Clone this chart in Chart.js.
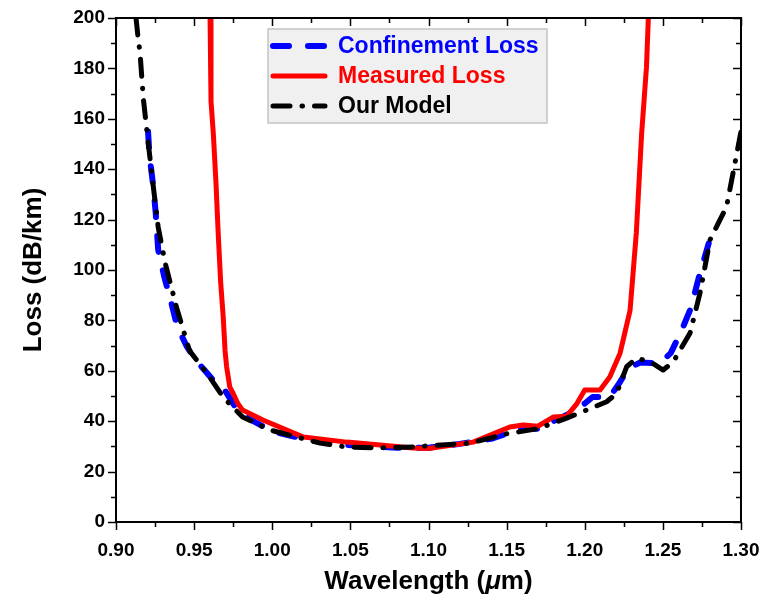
<!DOCTYPE html>
<html>
<head>
<meta charset="utf-8">
<script src="https://cdn.jsdelivr.net/npm/chart.js@4/dist/chart.umd.min.js"></script>
<style>
    html, body { margin: 0; padding: 0; background: #ffffff; }
    #wrap { width: 765px; height: 606px; position: relative; }
</style>
</head>
<body>
<div id="wrap"><canvas id="loss-chart"></canvas></div>
<script>
// Données
const confWl   = [0.9205, 0.9215, 0.9239, 0.9255, 0.927, 0.931, 0.935, 0.939, 0.945, 0.950, 0.957, 0.964, 0.970, 0.976, 0.985, 1.000, 1.02, 1.04, 1.06, 1.08, 1.10, 1.12, 1.14, 1.16, 1.17, 1.18, 1.19, 1.20, 1.205, 1.216, 1.222, 1.228, 1.2355, 1.248, 1.255, 1.262, 1.268, 1.273, 1.280];
const confLoss = [155, 145, 133, 122, 108, 97, 88, 78, 70, 65, 60, 55, 52, 46, 41, 36, 33, 31, 30, 29.5, 29.5, 31, 33, 37, 37, 40, 43, 47, 49.6, 49.6, 55, 61, 63.3, 63, 67, 76, 85, 97, 112];

const measWl   = [0.9602, 0.9608, 0.9623, 0.964, 0.9654, 0.967, 0.9686, 0.9698, 0.9708, 0.9728, 0.975, 0.978, 0.981, 0.994, 1.02, 1.0476, 1.069, 1.09, 1.10, 1.1286, 1.152, 1.1606, 1.17, 1.18, 1.1884, 1.195, 1.20, 1.2098, 1.216, 1.2226, 1.229, 1.233, 1.2364, 1.2395, 1.2407];
const measLoss = [200, 167, 154, 134.5, 114.6, 95, 81.5, 68, 61.6, 53.6, 51, 47, 44.4, 40.5, 33.7, 31.7, 30.6, 29.4, 29.2, 31.7, 37.7, 38.5, 38, 41.7, 42, 47, 52.4, 52.4, 57.5, 67, 84, 114.7, 154, 180.5, 200];

const modelWl   = [0.9128, 0.914, 0.9154, 0.9175, 0.9207, 0.9239, 0.927, 0.9314, 0.9388, 0.947, 0.960, 0.9685, 0.981, 0.9986, 1.0306, 1.047, 1.069, 1.09, 1.1266, 1.15, 1.17, 1.1884, 1.214, 1.2204, 1.2268, 1.2332, 1.242, 1.2502, 1.2567, 1.2674, 1.2738, 1.2802, 1.285, 1.2907, 1.296, 1.300];
const modelLoss = [200, 193, 186, 168, 150, 133, 117, 103, 85, 68, 57.5, 49.6, 41.7, 36.5, 31.3, 29.8, 29.4, 29.8, 31.3, 35, 37, 41.2, 47.7, 51, 61.6, 65, 63.5, 60.3, 63.6, 75, 91, 112, 118, 125, 142, 155];

const seriesLabels = ['Confinement Loss', 'Measured Loss', 'Our Model'];
const seriesColors = ['#0000ff', '#ff0000', '#000000'];

const xTicksMin = 0.90, xTicksMax = 1.30, xStep = 0.05;
const yTicksMin = 0, yTicksMax = 200, yStep = 20;

const FONT = "'Liberation Sans', Arial, sans-serif";

function toPoints(xs, ys) {
    return xs.map((x, i) => ({ x: x, y: ys[i] }));
}

const dashes = [[16, 19], [], [17, 12, 0.5, 12]];
const widths = [6, 5, 5];

/**
 * Cadre, graduations sur les quatre côtés et légende dans la zone du graphique
 */
const framePlugin = {
    id: 'frame',
    afterDraw(chart) {
        const ctx = chart.ctx;
        const a = chart.chartArea;
        const xs = chart.scales.x, ys = chart.scales.y;
        ctx.save();
        ctx.strokeStyle = '#000';
        ctx.lineWidth = 1.5;
        // graduations x (majeures et mineures)
        for (let i = 0; i <= 16; i++) {
            const v = xTicksMin + i * xStep / 2;
            const px = Math.round(xs.getPixelForValue(v)) + 0.5;
            const len = i % 2 === 0 ? 8 : 5;
            ctx.beginPath();
            ctx.moveTo(px, a.bottom); ctx.lineTo(px, a.bottom + len);
            ctx.moveTo(px, a.top); ctx.lineTo(px, a.top + len);
            ctx.stroke();
        }
        // graduations y
        for (let i = 0; i <= 20; i++) {
            const v = yTicksMin + i * yStep / 2;
            const py = Math.round(ys.getPixelForValue(v)) + 0.5;
            const len = i % 2 === 0 ? 8 : 5;
            ctx.beginPath();
            ctx.moveTo(a.left, py); ctx.lineTo(a.left - len, py);
            ctx.moveTo(a.right, py); ctx.lineTo(a.right - len, py);
            ctx.stroke();
        }
        ctx.lineWidth = 2;
        ctx.strokeRect(a.left, a.top, a.right - a.left, a.bottom - a.top);

        // Légende
        const lx = a.left + 152, ly = a.top + 11, lw = 279, lh = 94;
        ctx.fillStyle = '#f0f0f0';
        ctx.fillRect(lx, ly, lw, lh);
        ctx.strokeStyle = '#c4c4c4';
        ctx.lineWidth = 1.5;
        ctx.strokeRect(lx, ly, lw, lh);
        ctx.font = 'bold 23px ' + FONT;
        ctx.textBaseline = 'middle';
        ctx.textAlign = 'left';
        ctx.lineCap = 'round';
        seriesLabels.forEach((label, i) => {
            const y = ly + 17 + i * 30;
            ctx.strokeStyle = seriesColors[i];
            ctx.lineWidth = widths[i];
            ctx.setLineDash(dashes[i]);
            ctx.beginPath();
            ctx.moveTo(lx + 5, y); ctx.lineTo(lx + 57, y);
            ctx.stroke();
            ctx.setLineDash([]);
            ctx.fillStyle = seriesColors[i];
            ctx.fillText(label, lx + 70, y + 1);
        });

        // Titre de l'axe x avec µ en italique
        const cx = (a.left + a.right) / 2, ty = 582;
        const parts = [['Wavelength (', 'bold 26px '], ['\u03bc', 'italic bold 26px '], ['m)', 'bold 26px ']];
        let total = 0;
        parts.forEach(p => { ctx.font = p[1] + FONT; total += ctx.measureText(p[0]).width; });
        let x0 = cx - total / 2;
        ctx.fillStyle = '#000';
        parts.forEach(p => {
            ctx.font = p[1] + FONT;
            ctx.fillText(p[0], x0, ty);
            x0 += ctx.measureText(p[0]).width;
        });
        ctx.restore();
    }
};

function initLossChart() {
    const ctx = document.getElementById('loss-chart').getContext('2d');
    const sets = [toPoints(confWl, confLoss), toPoints(measWl, measLoss), toPoints(modelWl, modelLoss)];
    const order = [3, 2, 1];
    return new Chart(ctx, {
        type: 'scatter',
        data: {
            datasets: sets.map((pts, i) => ({
                label: seriesLabels[i],
                data: pts,
                showLine: true,
                borderColor: seriesColors[i],
                backgroundColor: seriesColors[i],
                borderWidth: widths[i],
                borderDash: dashes[i],
                borderCapStyle: 'round',
                borderJoinStyle: 'round',
                pointRadius: 0,
                tension: 0,
                order: order[i]
            }))
        },
        options: {
            responsive: true,
            maintainAspectRatio: false,
            animation: false,
            layout: { padding: { left: 0, right: 24, top: 18, bottom: 0 } },
            plugins: {
                legend: { display: false },
                tooltip: { enabled: false }
            },
            scales: {
                x: {
                    type: 'linear',
                    min: xTicksMin,
                    max: xTicksMax,
                    grid: { display: false },
                    border: { display: false },
                    afterFit: s => { s.height = 84; s.paddingLeft = 0; s.paddingRight = 0; },
                    ticks: {
                        stepSize: xStep,
                        padding: 9,
                        color: '#000',
                        font: { family: FONT, size: 19, weight: 'bold' },
                        maxRotation: 0,
                        callback: v => v.toFixed(2)
                    }
                },
                y: {
                    min: yTicksMin,
                    max: yTicksMax,
                    grid: { display: false },
                    border: { display: false },
                    afterFit: s => { s.width = 116; s.paddingTop = 0; s.paddingBottom = 0; },
                    title: {
                        display: true,
                        text: 'Loss (dB/km)',
                        color: '#000',
                        font: { family: FONT, size: 26, weight: 'bold' },
                        padding: { top: 18, bottom: 0 }
                    },
                    ticks: {
                        stepSize: yStep,
                        padding: 3,
                        color: '#000',
                        font: { family: FONT, size: 19, weight: 'bold' }
                    }
                }
            }
        },
        plugins: [framePlugin]
    });
}

initLossChart();
</script>
</body>
</html>
